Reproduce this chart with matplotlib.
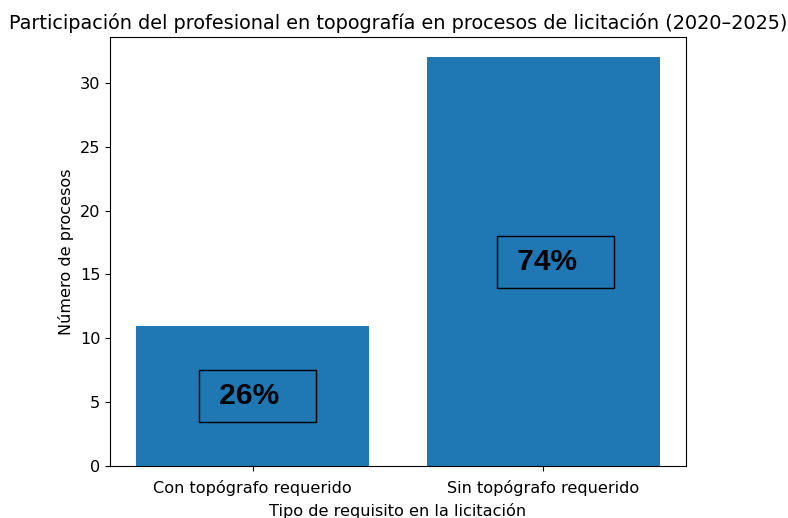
import matplotlib
matplotlib.use("Agg")
import matplotlib.pyplot as plt

categorias = ["Con topógrafo requerido", "Sin topógrafo requerido"]
procesos = [11, 32]
etiquetas = ["26%", "74%"]

plt.rcParams["font.size"] = 11.6

fig, ax = plt.subplots(figsize=(7.88, 5.18), dpi=100)
plt.subplots_adjust(left=0.1396, right=0.8706, bottom=0.1004, top=0.9286)

ax.bar(categorias, procesos, color="#1f77b4")

# small nudges so the boxes sit like in the original
desplaz = [3.5, 8.5]
for i in range(len(procesos)):
	ax.annotate(" " + etiquetas[i] + "   ", xy=(i, procesos[i] / 2),
				xytext=(desplaz[i], 0), textcoords="offset points",
				ha="center", va="center", fontsize=21.5, fontweight="bold",
				family="Liberation Sans",
				bbox=dict(boxstyle="square,pad=0.4", facecolor="none", edgecolor="black"))

ax.tick_params(axis="x", pad=6.5)
ax.set_title("Participación del profesional en topografía en procesos de licitación (2020–2025)", fontsize=13.9)
ax.set_xlabel("Tipo de requisito en la licitación", labelpad=5)
ax.set_ylabel("Número de procesos")

fig.savefig("out.png", dpi=100)
